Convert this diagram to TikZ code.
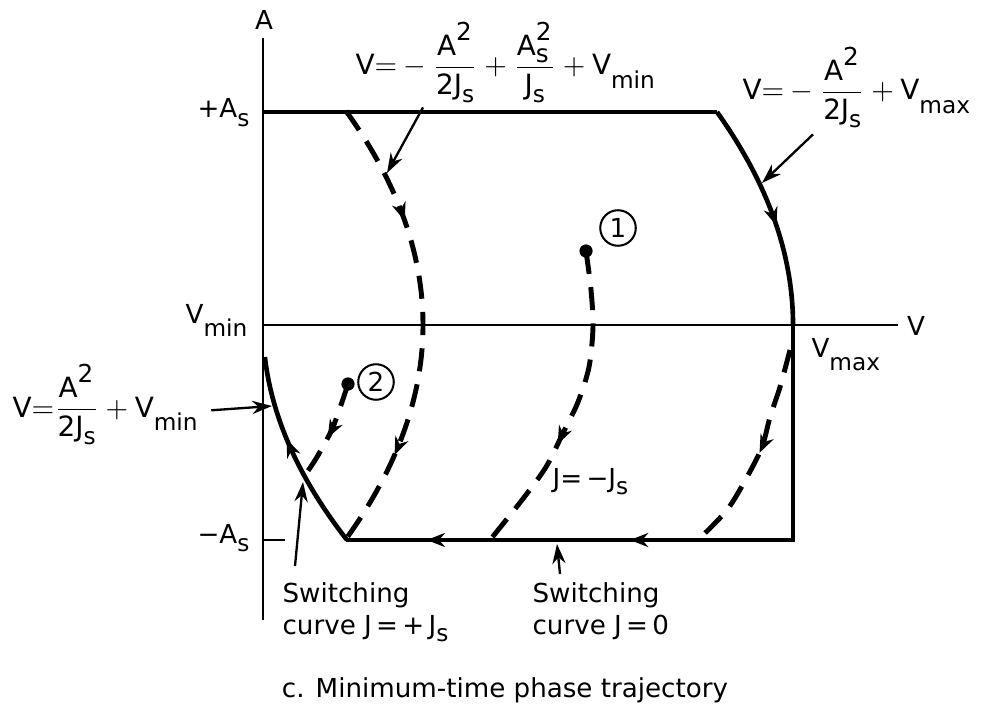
\documentclass[tikz,border=0pt]{standalone}
\usepackage{amsmath}
\usepackage{fontspec}
\setmainfont{DejaVu Sans}
\usetikzlibrary{arrows.meta,calc,decorations.markings}
\newcommand{\sz}[1]{\hbox{\fontsize{8.5}{8.5}\selectfont #1}}
\newcommand{\lwr}[2][2.6pt]{\raisebox{-#1}{\fontsize{8}{8}\selectfont #2}}
\begin{document}
\begin{tikzpicture}[x=0.121mm,y=-0.121mm,
  font=\fontsize{9}{11}\selectfont,
  ax/.style={line width=0.7pt},
  thk/.style={line width=1.6pt},
  dsh/.style={line width=1.7pt,dash pattern=on 2.8mm off 1.6mm},
  flow/.style={postaction={decorate,decoration={markings,mark=at position #1 with {\arrow{Stealth[length=2.2mm,width=1.7mm]}}}}},
  ptr/.style={line width=0.8pt,-{Stealth[length=2.4mm,width=1.6mm]}},
  lab/.style={inner sep=0pt},
  eqn/.style={inner sep=0pt,anchor=base west,font=\fontsize{9.6}{11}\selectfont},
  num/.style={draw,circle,line width=0.7pt,inner sep=0.5pt,minimum size=4.3mm},
  dotn/.style={circle,fill,inner sep=0pt,minimum size=1.6mm}]
\useasboundingbox (0,0) rectangle (989,711);
% ---------- axes ----------
\node[lab] (lblA) at (264,20) {A};
\node[lab] (lblV) at (916,326) {V};
\draw[ax] (263,620) -- (263,38);
\draw[ax] (263,325) -- (898,325);
\draw[ax] (263,540) -- (285,540);
\node[lab,anchor=base east] (lblAsp) at (250,118) {+A\lwr[3pt]{s}};
\node[lab,anchor=base east] (lblVmin) at (248,323) {V\lwr[4.5pt]{min}};
\node[lab,anchor=base east] (lblAsm) at (250,543) {−A\lwr[3pt]{s}};
\node[lab,anchor=base west] (lblVmax) at (811,357) {V\lwr[4.5pt]{max}};
% ---------- limit curves ----------
\draw[thk] (263,112) -- (717,112);
\draw[thk,flow=0.56] plot[domain=0:1,samples=40] ({793-76*(1-\x)*(1-\x)},{112+213*\x});
\draw[thk,flow=0.571,flow=0.878] (793,325) -- (793,540) -- (346,540);
\draw[thk,flow=0.58] plot[domain=-215:-32,samples=40] ({263+84*(\x/215)*(\x/215)},{325-\x});
% ---------- trajectories ----------
\draw[dsh,flow=0.27,flow=0.79] plot[domain=-214:214,samples=60] ({346+77*(1-(\x/214)*(\x/214))},{325+\x});
\node[dotn] (st1) at (586,251) {};
\node[num] (n1) at (618,228) {1};
\draw[dsh,flow=0.63] plot[smooth] coordinates {(st1.center) (591,290) (593,327) (589,367) (578,402) (563,433) (546,467) (522,500) (490,540)};
\draw[dsh,flow=0.5] plot[smooth] coordinates {(790,350) (780,387) (770,417) (762,447) (747,477) (727,510) (698,540)};
\node[dotn] (st2) at (348,384) {};
\node[num] (n2) at (376,382) {2};
\draw[dsh,flow=0.55] plot[smooth] coordinates {(st2.center) (333,427) (317,457) (303,478)};
\node[lab,anchor=base west] (lblJm) at (552,487) {J=\,−J\lwr{s}};
% ---------- curve labels ----------
\node[eqn] (lblTop) at (355,75) {$\mathrm{V}{=}-\dfrac{\mathrm{A}^{\sz{2}}}{\mathrm{2J}\lwr{s}}+\dfrac{\mathrm{A}_{\sz{s}}^{\sz{2}}}{\mathrm{J}\lwr{s}}+\mathrm{V}\lwr[4.5pt]{min}$};
\node[eqn] (lblRt) at (742,100) {$\mathrm{V}{=}-\dfrac{\mathrm{A}^{\sz{2}}}{\mathrm{2J}\lwr{s}}+\mathrm{V}\lwr[4.5pt]{max}$};
\node[eqn] (lblLt) at (12,417) {$\mathrm{V}{=}\dfrac{\mathrm{A}^{\sz{2}}}{\mathrm{2J}\lwr{s}}+\mathrm{V}\lwr[4.5pt]{min}$};
\coordinate (pTop) at (387,173);
\coordinate (pRt) at (762,183);
\coordinate (pLt) at (272,406);
\coordinate (pSw1) at (303,482);
\coordinate (pSw0) at (557,544);
\draw[ptr] ($(lblTop.south west)+(68,4)$) -- (pTop);
\draw[ptr] ($(lblRt.south west)+(71,6)$) -- (pRt);
\draw[ptr] ($(lblLt.east)+(13,6)$) -- (pLt);
% ---------- switching notes ----------
\node[lab,anchor=north west,align=left] (lblSw1) at (282,582) {Switching\\curve J\,=\,+\,J\lwr{s}};
\node[lab,anchor=north west,align=left] (lblSw0) at (532,582) {Switching\\curve J\,=\,0};
\draw[ptr] ($(lblSw1.north west)+(13,-16)$) -- (pSw1);
\draw[ptr] ($(lblSw0.north west)+(28,-8)$) -- (pSw0);
\node[lab,anchor=base] (cap) at (505,697) {c. Minimum-time phase trajectory};
\end{tikzpicture}
\end{document}
